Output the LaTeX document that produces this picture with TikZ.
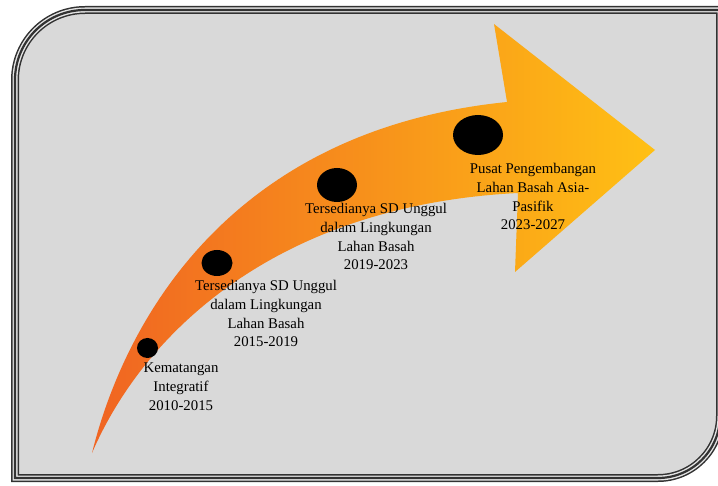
\documentclass[tikz,border=0pt]{standalone}
\usepackage{fontspec}
\setmainfont{Liberation Serif}
\usetikzlibrary{shapes.geometric}
\definecolor{bggrey}{RGB}{217,217,217}
\definecolor{framedark}{RGB}{50,50,50}
\definecolor{framelight}{RGB}{228,228,228}
\definecolor{arrowA}{RGB}{240,100,34}
\definecolor{arrowB}{RGB}{255,192,20}
\begin{document}
\begin{tikzpicture}[x=1pt,y=-1pt,
  dot/.style={ellipse, fill=black, inner sep=0pt, draw=none},
  lbl/.style={align=center, anchor=north, inner sep=0pt, font=\fontsize{14.8}{18.8}\selectfont, text=black}]
\useasboundingbox (0,0) rectangle (718,486);
\clip (0,0) rectangle (718,486);
% frame
\path[fill=bggrey, draw=framedark, line width=8,
      postaction={draw=framelight, line width=5},
      postaction={draw=framedark, line width=2.2}]
  (15,478) -- (15,80) .. controls (15,41.3) and (46.3,10) .. (85,10)
  -- (720,10) -- (720,416) .. controls (720,450.2) and (692.2,478) .. (658,478) -- cycle;
% arrow
\shade[left color=arrowA, right color=arrowB]
  (92,453) .. controls (145,330) and (280,205) .. (518,193)
  -- (515,272) -- (655,150) -- (494,24) -- (507,102)
  .. controls (230,130) and (125,320) .. (92,453) -- cycle;
% dots
\node[dot, minimum width=21, minimum height=20] (d1) at (147.5,348) {};
\node[dot, minimum width=31, minimum height=26] (d2) at (217,263) {};
\node[dot, minimum width=40, minimum height=34] (d3) at (337,185) {};
\node[dot, minimum width=50, minimum height=40] (d4) at (478,135) {};
% labels
\node[lbl] (t1) at (181,363) {Kematangan\\Integratif\\2010-2015};
\node[lbl] (t2) at (266,280) {Tersedianya SD Unggul\\dalam Lingkungan\\Lahan Basah\\2015-2019};
\node[lbl] (t3) at (376,203) {Tersedianya SD Unggul\\dalam Lingkungan\\Lahan Basah\\2019-2023};
\node[lbl] (t4) at (533,163) {Pusat Pengembangan\\Lahan Basah Asia-\\Pasifik\\2023-2027};
\end{tikzpicture}
\end{document}
